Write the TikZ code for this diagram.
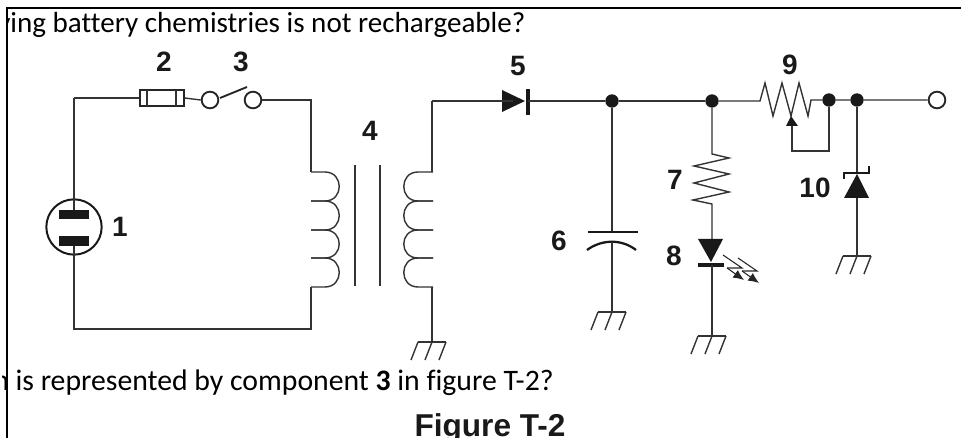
\documentclass[tikz,border=0pt]{standalone}
\usepackage{fontspec}
\setmainfont[Ligatures=CommonOff]{Carlito}
\newfontfamily\labelfont{Liberation Sans}
\usetikzlibrary{arrows.meta}
\tikzset{
  wire/.style={line width=1.05pt, draw=black!80},
  solid part/.style={fill=black!90, draw=none},
  dot/.style={circle, fill=black!90, inner sep=0pt, minimum size=10pt},
  open/.style={circle, draw=black!85, line width=1.4pt, fill=white, inner sep=0pt, minimum size=12.5pt},
  num/.style={font=\labelfont\bfseries\fontsize{21}{23}\selectfont, text=black!90, inner sep=0pt},
  body/.style={font=\fontsize{#1}{26}\selectfont, anchor=base west, inner sep=0pt},
  gnd/.pic={
    \draw[wire] (-14,0) -- (14,0);
    \foreach \i in {-14,0,14}
      \draw[wire] (\i,0) -- (\i-7,18);
  }
}
\begin{document}
\begin{tikzpicture}[x=0.75pt, y=-0.75pt]
  \useasboundingbox (0,0) rectangle (961,438);
  % the two lines of text behind the figure
  \begin{scope}
    \clip (7,0) rectangle (961,60);
    \node (q1) [body=21.8] at (-3,33) {ying battery chemistries is not rechargeable?};
  \end{scope}
  \begin{scope}
    \clip (2,370) rectangle (961,400);
    \node (q2) [body=22.3] at (-7,391) {n is represented by component \textbf{3} in figure T-2?};
  \end{scope}
  \draw[line width=1.4pt] (7,438) -- (7,8) -- (961,8);
  \node (title) [font=\labelfont\bfseries\fontsize{23.7}{26}\selectfont, text=black!90, anchor=base, inner sep=0pt] at (490,436) {Figure T-2};

  % corners and junctions
  \coordinate (tl) at (74,98);
  \coordinate (bl) at (74,329);
  \coordinate (br) at (311,329);
  \coordinate (pa) at (311,172);
  \coordinate (pb) at (311,287);
  \coordinate (tr) at (311,100);
  \coordinate (sa) at (432,172);
  \coordinate (sb) at (432,287);
  \coordinate (st) at (432,101);
  \coordinate (gs) at (432,342);
  \coordinate (gc) at (612,312);
  \coordinate (gl) at (712,336);
  \coordinate (gz) at (857,256);
  \node (j1) [dot] at (612,101) {};
  \node (j2) [dot] at (712,101) {};
  \node (j3) [dot] at (829,100) {};
  \node (j4) [dot] at (857,100) {};
  \node (out) [open] at (937,100) {};

  % lamp
  \node (lamp) [circle, draw=black!90, line width=1.5pt, minimum size=41.5pt, inner sep=0pt] at (74,227) {};
  \node (bar1) [solid part, minimum width=23pt, minimum height=7pt, inner sep=0pt] at (74,214.5) {};
  \node (bar2) [solid part, minimum width=23pt, minimum height=7pt, inner sep=0pt] at (74,241) {};
  \draw[wire] (bar1.north) -- (lamp.north) -- (tl);
  \draw[wire] (bar2.south) -- (bl) -- (br) -- (pb);

  % fuse and switch
  \node (fuse) [draw=black!85, line width=1.1pt, minimum width=33pt, minimum height=12pt, inner sep=0pt] at (162,98) {};
  \draw[wire] (147,90) -- (147,106) (176,90) -- (176,106);
  \node (s1) [open] at (210,100) {};
  \node (s2) [open] at (253,100) {};
  \draw[wire] (tl) -- (fuse.west);
  \draw[wire] (fuse.east) -- (s1.west);
  \draw[line width=1.4pt, black!85] (220,98) -- (247,87);
  \draw[wire] (s2.east) -- (tr) -- (pa);

  % transformer
  \foreach \y/\z in {172/201, 201/230, 230/258, 258/287} {
    \draw[wire] (311,\y) -- (325,\y) .. controls (344,\y) and (344,\z) .. (325,\z) -- (311,\z);
    \draw[wire] (433,\y) -- (418,\y) .. controls (399,\y) and (399,\z) .. (418,\z) -- (433,\z);
  }
  \draw[wire] (355,165) -- (355,286) (380,165) -- (380,286);
  \draw[wire] (sa) -- (st);
  \draw[wire] (sb) -- (gs);
  \pic at (gs) {gnd};

  % diode 5
  \node (d5) [solid part, minimum width=0pt, inner sep=0pt] at (513,101) {};
  \fill[black!90] (502,90) -- (525,101) -- (502,112) -- cycle;
  \draw[line width=2.8pt, black!90] (528,89) -- (528,115);
  \draw[wire] (st) -- (d5);
  \draw[wire] (528,101) -- (j1) -- (j2);

  % capacitor 6
  \coordinate (c6) at (612,232);
  \draw[wire] (j1) -- (c6);
  \draw[line width=2pt, black!90] (588,232) -- (638,232);
  \draw[line width=1.7pt, black!90] (587,250) .. controls (602,239) and (622,239) .. (636,250);
  \draw[wire] (612,242) -- (gc);
  \pic at (gc) {gnd};

  % resistor 7 and led 8
  \draw[wire] (j2) -- (712,154) -- (729,158) -- (694,166) -- (729,174) -- (694,183) -- (729,192) -- (693,200) -- (712,204) -- (712,239);
  \fill[black!90] (698,239) -- (723,239) -- (711,262) -- cycle;
  \draw[line width=3pt, black!90] (698,265) -- (724,265);
  \draw[wire] (712,265) -- (gl);
  \pic at (gl) {gnd};
  \foreach \dx/\dy in {0/0, 15/3} {
    \draw[line width=0.8pt, black!85] (723+\dx,255+\dy) -- (742+\dx,268+\dy) -- (727+\dx,268+\dy);
    \draw[line width=0.8pt, black!85, -{Latex[length=8pt,width=7pt]}] (727+\dx,268+\dy) -- (744+\dx,280+\dy);
  }

  % resistor 9
  \draw[wire] (j2) -- (760,101) -- (765,83) -- (773,116) -- (782,83) -- (791,116) -- (799,83) -- (808,116) -- (811,100) -- (j3) -- (j4) -- (out);
  \fill[black!90] (791,116) -- (798,126) -- (786,126) -- cycle;
  \draw[wire] (792,126) -- (792,151) -- (829,151) -- (j3);

  % zener 10
  \draw[wire] (j4) -- (857,173);
  \draw[line width=2pt, black!90] (844,179) -- (844,173) -- (869,173) -- (869,166);
  \fill[black!90] (857,174) -- (869,198) -- (844,198) -- cycle;
  \draw[wire] (857,198) -- (gz);
  \pic at (gz) {gnd};

  % labels
  \node (n1) [num] at (120,227) {1};
  \node (n2) [num] at (164,62) {2};
  \node (n3) [num] at (241,62) {3};
  \node (n4) [num] at (370,131) {4};
  \node (n5) [num] at (518,66) {5};
  \node (n6) [num] at (559,241) {6};
  \node (n7) [num] at (675,180) {7};
  \node (n8) [num] at (674,256) {8};
  \node (n9) [num] at (790,65) {9};
  \node (n10) [num] at (815,188) {10};
\end{tikzpicture}
\end{document}
